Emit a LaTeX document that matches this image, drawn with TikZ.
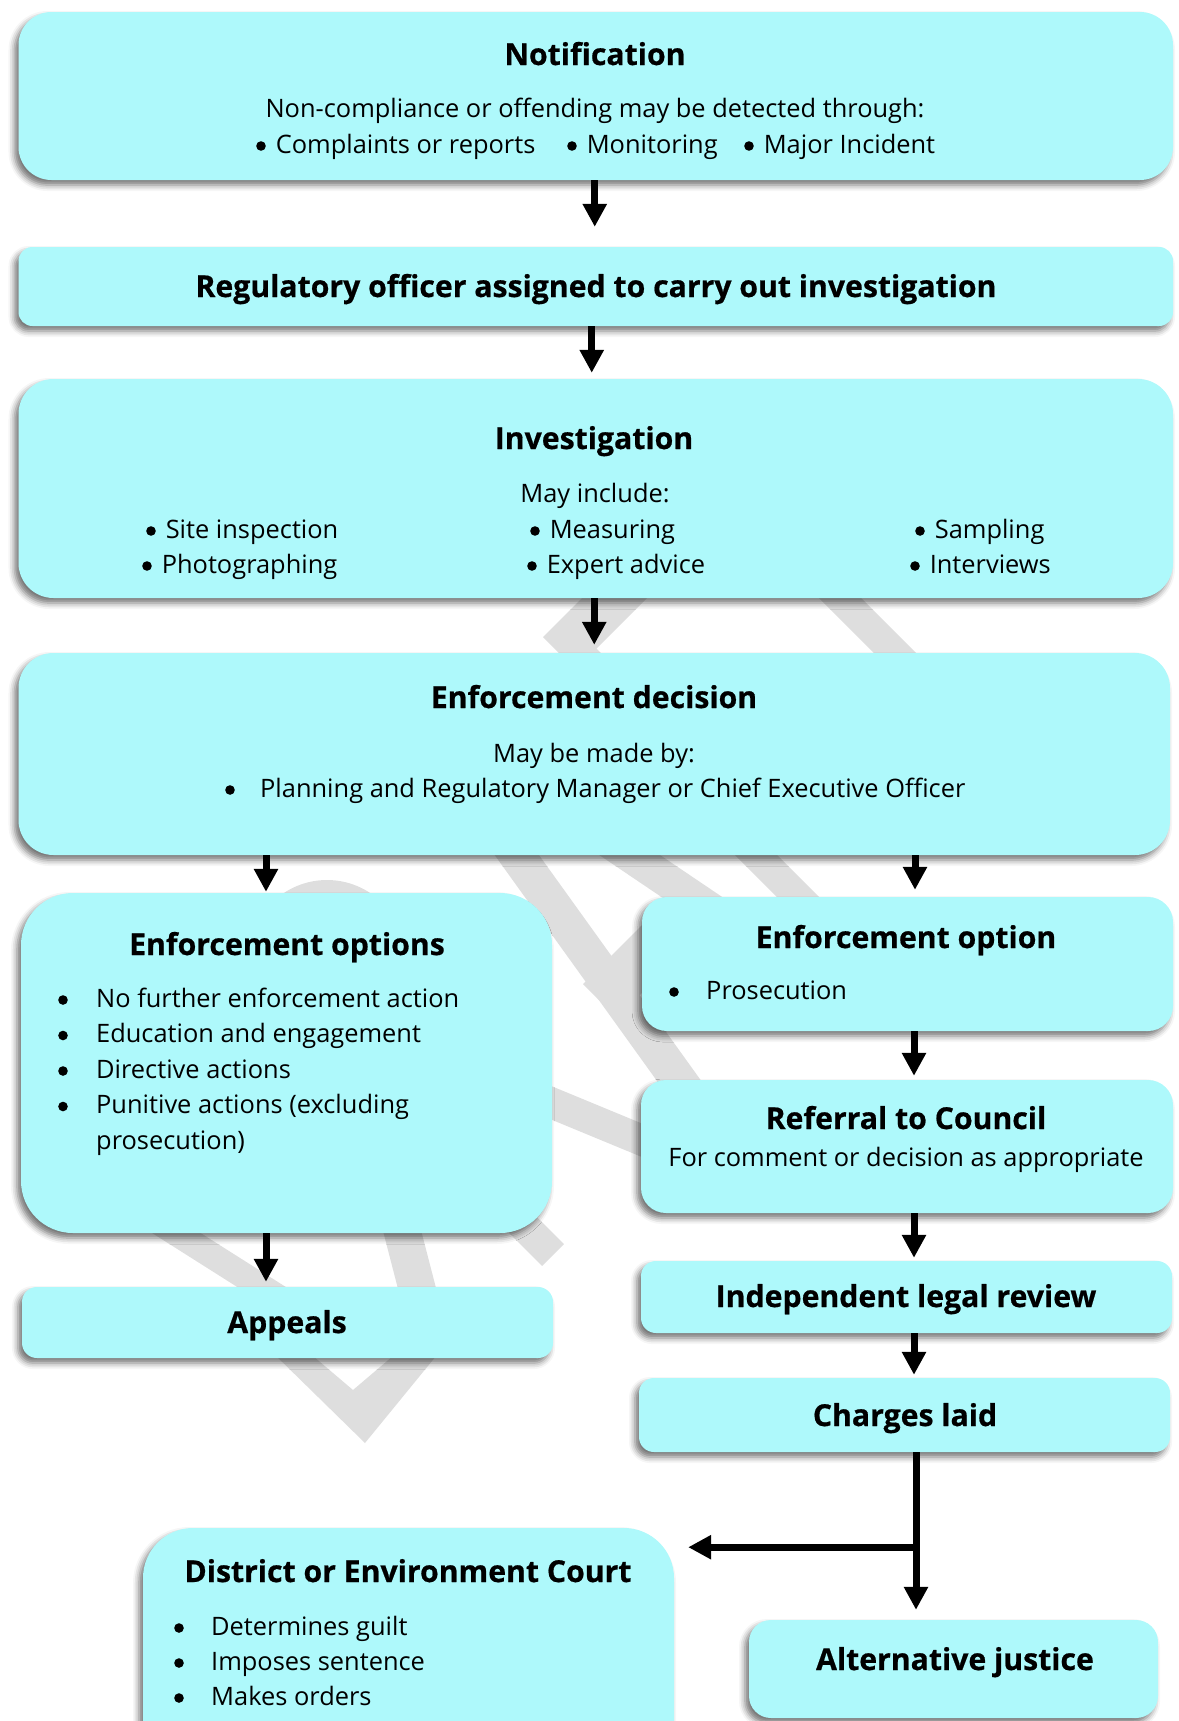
\documentclass[tikz,border=0pt]{standalone}
\usepackage{fontspec}
\setmainfont{Open Sans}[BoldFeatures={FakeBold=0.6}]
\usetikzlibrary{arrows.meta,shadows.blur}
\definecolor{boxcyan}{RGB}{174,249,251}
\definecolor{wmgray}{RGB}{222,222,222}
\newcommand\bul{\tikz[baseline=-7pt]\fill[black] (0,0) circle[radius=4.8pt];}
\begin{document}
\begin{tikzpicture}[x=1pt,y=-1pt,
  box/.style={fill=boxcyan, inner sep=0pt,
    blur shadow={shadow xshift=-4pt, shadow yshift=-5pt, shadow blur radius=6pt, shadow opacity=55}},
  ttl/.style={anchor=base, inner sep=0pt, font=\bfseries\fontsize{30.2}{36}\selectfont},
  txt/.style={anchor=base, inner sep=0pt, font=\fontsize{25.4}{35.5}\selectfont},
  txtw/.style={txt, anchor=base west},
  arr/.style={line width=7pt, -{Triangle[width=23pt,length=23pt]}},
  wmline/.style={wmgray, line width=#1},
]
\useasboundingbox (0,0) rectangle (1178,1721);

% ---------- watermark fragments (behind the boxes) ----------
\fill[wmgray] (543,637) -- (603,577) -- (668,577) -- (596.5,648.5) -- (628,680) -- (586,680) -- cycle;
\draw[wmline=30pt] (820,578) -- (920,678);
\draw[wmline=30pt] (327,958) circle[radius=63pt];
\draw[wmline=34pt] (600,835) -- (720,916);
\draw[wmline=30pt] (735,834) -- (815,914);
\draw[wmline=36pt] (501,833) -- (700,1110);
\draw[wmline=48pt] (600,1001) -- (680,921);
\draw[wmline=31pt] (530,1094) -- (680,1156);
\draw[wmline=31pt] (480,1182) -- (553,1255);
\draw[wmline=26pt] (140,1210) -- (290,1305);
\draw[wmline=37pt] (398,1215) -- (420,1300);
\fill[wmgray] (270,1350) -- (365,1443) -- (441,1350) -- (400,1350) -- (353,1390) -- (306,1350) -- cycle;

% ---------- boxes ----------
\node[box, rounded corners=33pt, minimum width=1154.5pt, minimum height=168pt] (notif) at (595.75,96) {};
\node[box, rounded corners=14pt, minimum width=1154.5pt, minimum height=79pt] (reg) at (595.75,286.5) {};
\node[box, rounded corners=35pt, minimum width=1154.5pt, minimum height=219pt] (inv) at (595.75,488.5) {};
\node[box, rounded corners=35pt, minimum width=1151.5pt, minimum height=202pt] (dec) at (594.25,754) {};
\node[box, rounded corners=52pt, minimum width=531pt, minimum height=340pt] (opts) at (286.5,1063) {};
\node[box, rounded corners=25pt, minimum width=531pt, minimum height=134pt] (opt) at (907.5,964) {};
\node[box, rounded corners=25pt, minimum width=532pt, minimum height=133pt] (ref) at (907,1146.5) {};
\node[box, rounded corners=15pt, minimum width=531pt, minimum height=72pt] (ind) at (906.5,1297) {};
\node[box, rounded corners=15pt, minimum width=531pt, minimum height=74pt] (chg) at (904.5,1415) {};
\node[box, rounded corners=15pt, minimum width=531pt, minimum height=71pt] (app) at (287.5,1322.5) {};
\node[box, rounded corners=50pt, minimum width=531pt, minimum height=272pt] (court) at (408.5,1664) {};
\node[box, rounded corners=22pt, minimum width=409pt, minimum height=98pt] (alt) at (953.5,1669) {};

% ---------- texts ----------
\node[ttl] (t-notif) at (595,65) {Notification};
\node[txt] (t-nc) at (595,117) {Non-compliance or offending may be detected through:};
\node[txtw] (t-n1) at (256,153) {\bul\hspace{10pt}Complaints or reports};
\node[txtw] (t-n2) at (567,153) {\bul\hspace{10pt}Monitoring};
\node[txtw] (t-n3) at (744,153) {\bul\hspace{10pt}Major Incident};

\node[ttl] (t-reg) at (596,297) {Regulatory officer assigned to carry out investigation};

\node[ttl] (t-inv) at (594,449) {Investigation};
\node[txt] (t-mi) at (595,502) {May include:};
\node[txtw] (t-i1) at (146,538) {\bul\hspace{10pt}Site inspection};
\node[txtw] (t-i2) at (530,538) {\bul\hspace{10pt}Measuring};
\node[txtw] (t-i3) at (915,538) {\bul\hspace{10pt}Sampling};
\node[txtw] (t-i4) at (142,573) {\bul\hspace{10pt}Photographing};
\node[txtw] (t-i5) at (527,573) {\bul\hspace{10pt}Expert advice};
\node[txtw] (t-i6) at (910,573) {\bul\hspace{10pt}Interviews};

\node[ttl] (t-dec) at (594,708) {Enforcement decision};
\node[txt] (t-mb) at (594,762) {May be made by:};
\node[txtw] (t-db) at (225,797) {\bul};
\node[txtw] (t-d1) at (260,797) {Planning and Regulatory Manager or Chief Executive Officer};

\node[ttl] (t-opts) at (287,955) {Enforcement options};
\node[txtw] (t-ob1) at (58,1007) {\bul};
\node[txtw] (t-o1) at (96,1007) {No further enforcement action};
\node[txtw] (t-ob2) at (58,1042.5) {\bul};
\node[txtw] (t-o2) at (96,1042.5) {Education and engagement};
\node[txtw] (t-ob3) at (58,1078) {\bul};
\node[txtw] (t-o3) at (96,1078) {Directive actions};
\node[txtw] (t-ob4) at (58,1113.5) {\bul};
\node[txtw] (t-o4) at (96,1113.5) {Punitive actions (excluding};
\node[txtw] (t-o5) at (96,1149) {prosecution)};

\node[ttl] (t-opt) at (906,948) {Enforcement option};
\node[txtw] (t-pb) at (669,999) {\bul};
\node[txtw] (t-p1) at (706,999) {Prosecution};

\node[ttl] (t-ref) at (906,1129) {Referral to Council};
\node[txt] (t-ref2) at (906,1166) {For comment or decision as appropriate};

\node[ttl] (t-ind) at (906,1307) {Independent legal review};
\node[ttl] (t-chg) at (905,1426) {Charges laid};
\node[ttl] (t-app) at (287,1333) {Appeals};

\node[ttl] (t-court) at (408,1582) {District or Environment Court};
\node[txtw] (t-cb1) at (174,1635) {\bul};
\node[txtw] (t-c1) at (211,1635) {Determines guilt};
\node[txtw] (t-cb2) at (174,1670) {\bul};
\node[txtw] (t-c2) at (211,1670) {Imposes sentence};
\node[txtw] (t-cb3) at (174,1705) {\bul};
\node[txtw] (t-c3) at (211,1705) {Makes orders};

\node[ttl] (t-alt) at (955,1670) {Alternative justice};

% ---------- connectors ----------
\draw[arr, shorten >=20pt] ([xshift=-1pt]notif.south) -- ([xshift=-1pt]notif.south |- reg.north);
\draw[arr, shorten >=6pt] ([xshift=-4pt]reg.south) -- ([xshift=-4pt]reg.south |- inv.north);
\draw[arr, shorten >=8pt] ([xshift=-1.5pt]inv.south) -- ([xshift=-1.5pt]inv.south |- dec.north);
\draw[arr, shorten >=1pt] ([xshift=-20.5pt]opts.north |- dec.south) -- ([xshift=-20.5pt]opts.north);
\draw[arr, shorten >=7pt] ([xshift=7.5pt]opt.north |- dec.south) -- ([xshift=7.5pt]opt.north);
\draw[arr, shorten >=4pt] ([xshift=6.5pt]opt.south) -- ([xshift=6.5pt]opt.south |- ref.north);
\draw[arr, shorten >=3pt] ([xshift=7pt]ref.south) -- ([xshift=7pt]ref.south |- ind.north);
\draw[arr, shorten >=3pt] ([xshift=7.5pt]ind.south) -- ([xshift=7.5pt]ind.south |- chg.north);
\draw[arr, shorten >=5pt] ([xshift=-20.5pt]opts.south) -- ([xshift=-20.5pt]opts.south |- app.north);
\coordinate (split) at ([xshift=11.5pt,yshift=-95pt]chg.south);
\draw[arr, shorten >=10pt] ([xshift=11.5pt]chg.south) -- ([xshift=11.5pt]chg.south |- alt.north);
\draw[arr, shorten >=14pt] (split) -- (split -| court.east);
\end{tikzpicture}
\end{document}
